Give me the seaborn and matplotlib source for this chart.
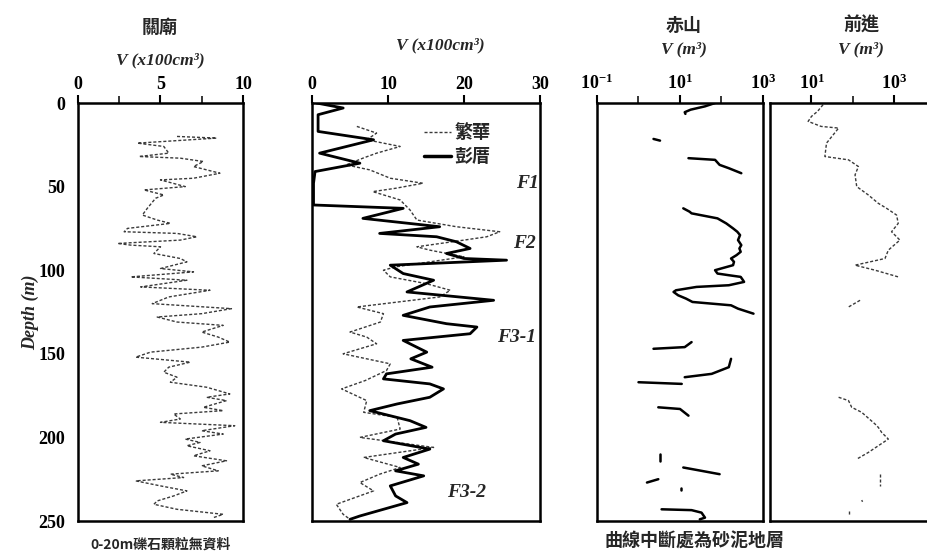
import numpy as np
import pandas as pd
import matplotlib
matplotlib.use("Agg")
import matplotlib.pyplot as plt
from matplotlib.lines import Line2D
from matplotlib.ticker import FixedLocator, NullFormatter
import seaborn as sns

# ---------------- data ----------------
# 關廟 (V x100 cm3) vs depth (m)
gm_depth = [20, 21, 24, 26, 30, 32, 33, 35, 38, 42, 45, 46, 50, 52, 55, 57, 63, 67, 70, 72,
            75, 77, 78, 80, 82, 84, 85, 86, 90, 93, 95, 99, 101, 104, 106, 110, 112, 116, 120, 123,
            126, 128, 131, 133, 137, 140, 143, 146, 149, 152, 155, 158, 161, 164, 167, 170, 174, 176,
            178, 182, 184, 186, 189, 191, 193, 196, 198, 201, 203, 205, 208, 211, 214, 217, 220, 222,
            224, 226, 229, 232, 235, 238, 240, 243, 246, 248]
gm_v = [6.0, 8.4, 3.6, 5.2, 5.5, 3.7, 6.2, 7.6, 7.0, 8.6, 7.0, 5.0, 6.5, 4.0, 5.2, 4.7, 4.2, 3.9, 4.8, 5.6,
        3.0, 2.8, 6.0, 7.2, 6.2, 2.4, 3.2, 5.0, 4.6, 6.2, 6.6, 5.0, 7.0, 3.2, 6.6, 3.8, 8.0, 5.5, 4.5, 9.3,
        7.5, 4.8, 6.0, 8.8, 7.5, 8.5, 9.2, 7.5, 4.4, 3.5, 6.8, 5.5, 5.2, 6.0, 5.6, 7.8, 9.2, 7.8,
        9.0, 7.6, 8.8, 5.8, 6.2, 5.0, 9.5, 7.5, 8.8, 6.5, 7.4, 6.6, 8.0, 7.0, 9.0, 7.5, 8.5, 5.6,
        6.4, 3.5, 5.0, 6.6, 5.8, 4.8, 4.6, 6.0, 8.8, 8.2]

# 繁華 (V x100 cm3)
fh_depth = [14, 18, 22, 26, 30, 33, 37, 40, 45, 48, 51, 53, 58, 64, 70, 74, 77, 80, 82, 86,
            88, 92, 98, 100, 104, 108, 112, 116, 122, 126, 131, 137, 140, 144, 150, 156, 160, 166,
            171, 178, 185, 188, 195, 200, 206, 212, 218, 222, 227, 232, 240, 246, 249]
fh_v = [5.9, 8.5, 7.2, 11.6, 8.5, 6.7, 4.5, 7.6, 10.3, 14.6, 11.0, 8.0, 11.6, 12.9, 13.8, 19.0, 24.7, 23.0, 20.0, 13.8,
        15.5, 20.0, 11.0, 9.4, 10.3, 15.0, 18.2, 16.8, 5.9, 9.4, 9.0, 5.0, 7.2, 8.5, 4.1, 10.3, 9.8, 7.0,
        3.9, 7.2, 6.8, 11.2, 11.6, 6.3, 16.0, 6.8, 11.6, 8.9, 6.3, 8.1, 3.2, 4.1, 5.0]

# 彭厝 (V x100 cm3)
pc_depth = [0, 3, 7, 17, 22, 30, 36, 41, 48, 61, 63, 69, 74, 78, 80, 83, 87, 90, 93, 94,
            97, 102, 106, 113, 118, 122, 127, 132, 134, 138, 142, 149, 153, 158, 162, 165, 168, 171,
            176, 180, 184, 190, 194, 198, 202, 207, 212, 216, 220, 223, 229, 235, 239, 243, 247, 249]
pc_v = [0.6, 4.1, 0.8, 0.8, 8.1, 1.0, 6.3, 0.4, 0.2, 0.2, 12.0, 6.7, 16.8, 8.9, 16.4, 19.0, 20.8, 17.7, 20.0, 25.6,
        10.3, 12.0, 16.0, 12.5, 23.9, 15.5, 12.0, 17.7, 21.7, 20.8, 12.0, 15.1, 13.0, 15.8, 9.8, 9.4, 15.5, 17.3,
        15.5, 11.2, 7.6, 12.9, 15.0, 11.0, 9.4, 15.5, 12.0, 14.0, 11.0, 14.7, 10.3, 11.0, 12.5, 9.4, 6.3, 5.0]

# 赤山 (V m3), segments separated by NaN (gaps = sand/mud layers)
cs_depth = [0, 2, 4, 5.5, 6.5, np.nan,
            21.5, 22.5, np.nan,
            33, 34, 37, 39, 42, np.nan,
            63, 65, 66, 69, 72, 75, 77, 79, 82, 85, 87, 89, 91, 93, 95, 97, 100, 102, 103, 104,
            106, 107, 109, 110, 112, 113, 115, 117, 119, 121, 123, 126, np.nan,
            143, 146, 147, np.nan,
            153, 158, 162, 164, np.nan,
            167, 168, np.nan,
            182, 183, 187, np.nan,
            210, 214, np.nan,
            218, 220, 222, np.nan,
            225, 227, np.nan,
            230.5, 231.5, np.nan,
            243, 243.5, 245, 248, 249]
cs_v = [70, 40, 18, 13, 13.5, np.nan,
        2.3, 3.3, np.nan,
        16, 70, 90, 150, 300, np.nan,
        12, 17, 19, 80, 130, 190, 240, 280, 250, 300, 270, 290, 230, 170, 200, 190, 70, 80, 150, 290,
        330, 350, 150, 25, 8, 7, 9, 14, 20, 170, 250, 590, np.nan,
        19, 13, 2.3, np.nan,
        170, 150, 58, 13, np.nan,
        1.0, 11, np.nan,
        3, 10, 16, np.nan,
        3.3, 3.3, np.nan,
        12, 33, 90, np.nan,
        3, 1.6, np.nan,
        10.5, 10.5, np.nan,
        3.6, 19, 33, 40, 30]

# 前進 (V m3)
qj_depth = [1, 5, 8, 11, 14, 15, 24, 32, 34, 38, 43, 50, 55, 60, 63, 67, 72, 77, 82, 88, 93, 97, 100, 104, np.nan,
            118, 122, np.nan,
            176, 178, 182, 185, 192, 194, 197, 201, 205, 209, 213, np.nan,
            222, 229, np.nan,
            237.5, 238.5, np.nan,
            244, 247]
qj_v = [19, 14, 10, 8.3, 17, 45, 23, 21, 78, 135, 112, 123, 234, 407, 646, 1120, 1230, 850, 1350, 710, 590, 112, 340, 1230, np.nan,
        148, 78, np.nan,
        45, 78, 93, 162, 340, 407, 490, 710, 407, 234, 123, np.nan,
        450, 450, np.nan,
        162, 170, np.nan,
        78, 78]

depth_ticks = [0, 50, 100, 150, 200, 250]


def segmented(depth, v):
    d = np.array(depth, float)
    x = np.array(v, float)
    seg = np.cumsum(np.isnan(d))
    df = pd.DataFrame({"depth": d, "V": x, "seg": seg})
    return df.dropna()


# ---------------- style ----------------
sns.set_theme(style="white")
SERIF = ["Liberation Serif", "Noto Sans CJK TC"]
CJK = ["Noto Sans CJK TC", "DejaVu Sans"]
plt.rcParams["font.family"] = SERIF
plt.rcParams["mathtext.fontset"] = "custom"
plt.rcParams["mathtext.rm"] = "Liberation Serif:bold"
plt.rcParams["mathtext.bf"] = "Liberation Serif:bold"
plt.rcParams["mathtext.it"] = "Liberation Serif:bold:italic"

W, H = 928, 557
fig = plt.figure(figsize=(W / 100, H / 100), dpi=100)


def px_axes(x0, x1, y0, y1):
    return fig.add_axes([x0 / W, 1 - y1 / H, (x1 - x0) / W, (y1 - y0) / H])


ax1 = px_axes(78, 243, 103, 521)
ax2 = px_axes(312, 540, 103, 521)
ax3 = px_axes(597, 763, 103, 521)
ax4 = px_axes(770, 936, 103, 521)

DOT = (0, (2.2, 1.4))
GRAY = "#3a3a3a"

sns.lineplot(x=gm_v, y=gm_depth, sort=False, estimator=None, ax=ax1,
             color=GRAY, lw=1.0, linestyle=DOT)
sns.lineplot(x=fh_v, y=fh_depth, sort=False, estimator=None, ax=ax2,
             color=GRAY, lw=1.0, linestyle=DOT)
sns.lineplot(x=pc_v, y=pc_depth, sort=False, estimator=None, ax=ax2,
             color="black", lw=2.0)
cs = segmented(cs_depth, cs_v)
sns.lineplot(data=cs, x="V", y="depth", units="seg", sort=False, estimator=None,
             ax=ax3, color="black", lw=1.8)
qj = segmented(qj_depth, qj_v)
sns.lineplot(data=qj, x="V", y="depth", units="seg", sort=False, estimator=None,
             ax=ax4, color=GRAY, lw=1.0, linestyle=DOT)

ax1.set_xlim(0, 10)
ax2.set_xlim(0, 30)
ax3.set_xscale("log")
ax3.set_xlim(0.1, 1000)
ax4.set_xscale("log")
ax4.set_xlim(1, 10000)

tickfont = dict(fontsize=13, fontweight="bold", family="Liberation Serif")
for ax in (ax1, ax2, ax3, ax4):
    ax.set_ylim(250, 0)
    ax.set_yticks(depth_ticks)
    ax.xaxis.tick_top()
    ax.xaxis.set_label_position("top")
    ax.tick_params(axis="x", direction="out", length=6, width=1.5, pad=1, colors="black")
    ax.tick_params(axis="y", direction="out", length=8, width=1.5, pad=1, colors="black")
    ax.tick_params(axis="x", which="minor", direction="out", length=5, width=1.3, top=True, bottom=False)
    for s in ax.spines.values():
        s.set_color("black")
        s.set_linewidth(1.8)
        s.set_visible(True)
    ax.set_xlabel("")
    ax.set_ylabel("")
    ax.grid(False)
    if ax.get_legend():
        ax.get_legend().remove()

ax1.set_xticks([0, 5, 10])
ax1.set_xticklabels(["0", "5", "10"], **tickfont)
ax1.xaxis.set_minor_locator(FixedLocator([2.5, 7.5]))
ax1.set_yticklabels([str(t) for t in depth_ticks], **tickfont)

ax2.set_xticks([0, 10, 20, 30])
ax2.set_xticklabels(["0", "10", "20", "30"], **tickfont)
ax2.set_yticklabels([])

ax3.xaxis.set_major_locator(FixedLocator([0.1, 10, 1000]))
ax3.set_xticklabels([r"$\mathbf{10^{-1}}$", r"$\mathbf{10^{1}}$", r"$\mathbf{10^{3}}$"], fontsize=13)
ax3.xaxis.set_minor_locator(FixedLocator([1, 100]))
ax3.xaxis.set_minor_formatter(NullFormatter())
ax3.set_yticklabels([])

ax4.xaxis.set_major_locator(FixedLocator([10, 1000]))
ax4.set_xticklabels([r"$\mathbf{10^{1}}$", r"$\mathbf{10^{3}}$"], fontsize=13)
ax4.xaxis.set_minor_locator(FixedLocator([100]))
ax4.xaxis.set_minor_formatter(NullFormatter())
ax4.set_yticklabels([])

# legend in panel 2
handles = [Line2D([], [], color=GRAY, lw=1.0, linestyle=DOT),
           Line2D([], [], color="black", lw=2.5)]
ax2.legend(handles, ["繁華", "彭厝"], loc="upper left", bbox_to_anchor=(0.42, 0.99),
           frameon=False, handlelength=1.5, handletextpad=0.2, labelspacing=0.25,
           prop=dict(family=CJK, weight="bold", size=13))

# fault labels
flab = dict(fontsize=14, fontweight="bold", fontstyle="italic", family="Liberation Serif")
ax2.text(28.3, 48, "F1", ha="center", va="center", **flab)
ax2.text(28.0, 84, "F2", ha="center", va="center", **flab)
ax2.text(24.3, 140, "F3-1", ha="left", va="center", clip_on=True, **flab)
ax2.text(17.8, 233, "F3-2", ha="left", va="center", **flab)

# titles
def ftext(x, y, s, **kw):
    fig.text(x / W, 1 - y / H, s, ha="center", va="center", **kw)

cjk_title = dict(family=CJK, fontsize=13, fontweight="bold")
ital = dict(family="Liberation Serif", fontsize=12.5, fontweight="bold", fontstyle="italic")
ftext(160, 27, "關廟", **cjk_title)
ftext(160, 60, "V (x100cm³)", **ital)
ftext(440, 45, "V (x100cm³)", **ital)
ftext(684, 25, "赤山", **cjk_title)
ftext(684, 49, "V (m³)", **ital)
ftext(861, 25, "前進", **cjk_title)
ftext(861, 49, "V (m³)", **ital)

fig.text(30 / W, 1 - 312 / H, "Depth (m)", rotation=90, ha="center", va="center",
         family="Liberation Serif", fontsize=13, fontweight="bold", fontstyle="italic")

ftext(161, 545, "0-20m礫石顆粒無資料", family=CJK, fontsize=10, fontweight="bold")
ftext(695, 541, "曲線中斷處為砂泥地層", family=CJK, fontsize=13, fontweight="bold")

fig.savefig("out.png", dpi=100)
